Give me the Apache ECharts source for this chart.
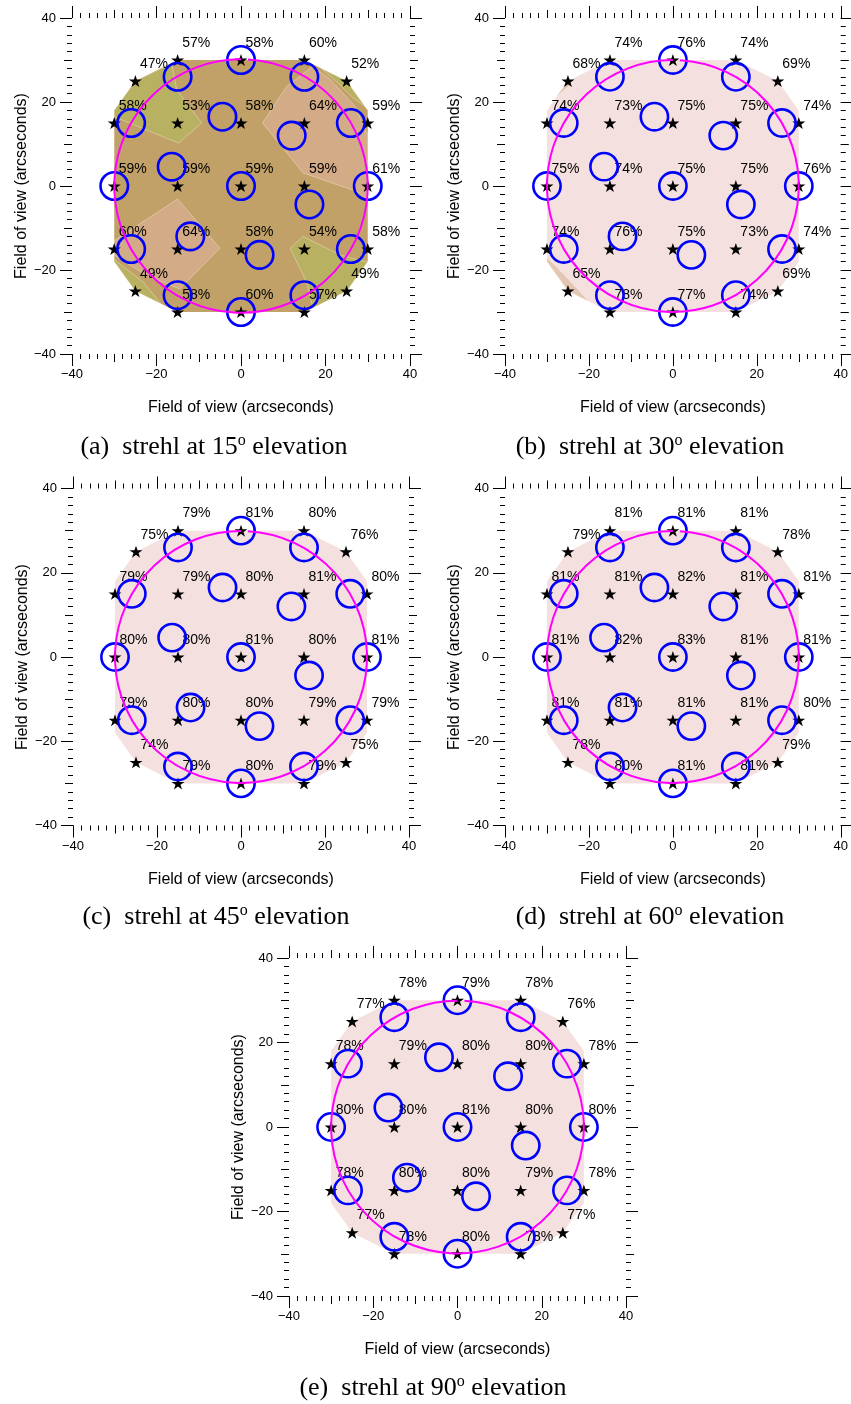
<!DOCTYPE html>
<html>
<head>
<meta charset="utf-8">
<script src="https://cdn.jsdelivr.net/npm/echarts@6/dist/echarts.min.js"></script>
<style>
html, body { margin: 0; padding: 0; background: #fff; }
#chart { width: 851px; height: 1404px; }
</style>
</head>
<body>
<div id="chart"></div>
<script>
// guide star positions (arcsec)
var starX = [-15, 0, 15, -25, 25, -30, -15, 0, 15, 30, -30, -15, 0, 15, 30, -30, -15, 0, 15, 30, -25, 25, -15, 0, 15]
var starY = [30, 30, 30, 25, 25, 15, 15, 15, 15, 15, 0, 0, 0, 0, 0, -15, -15, -15, -15, -15, -25, -25, -30, -30, -30]

// strehl (%) at each star, per elevation
var strehl15 = [57, 58, 60, 47, 52, 58, 53, 58, 64, 59, 59, 59, 59, 59, 61, 60, 64, 58, 54, 58, 49, 49, 58, 60, 57]
var strehl30 = [74, 76, 74, 68, 69, 74, 73, 75, 75, 74, 75, 74, 75, 75, 76, 74, 76, 75, 73, 74, 65, 69, 78, 77, 74]
var strehl45 = [79, 81, 80, 75, 76, 79, 79, 80, 81, 80, 80, 80, 81, 80, 81, 79, 80, 80, 79, 79, 74, 75, 79, 80, 79]
var strehl60 = [81, 81, 81, 79, 78, 81, 81, 82, 81, 81, 81, 82, 83, 81, 81, 81, 81, 81, 81, 80, 78, 79, 80, 81, 81]
var strehl90 = [78, 79, 78, 77, 76, 78, 79, 80, 80, 78, 80, 80, 81, 80, 80, 78, 80, 80, 79, 78, 77, 77, 78, 80, 78]

// blue rings (probe footprints)
var ringX = [0, -15, 15, -26, 26, -4.4, 12, -16.4, -30, 0, 30, 16.2, -12, 4.4, -26, 26, -15, 15, 0]
var ringY = [30, 26, 26, 15, 15, 16.5, 12, 4.6, 0, 0, 0, -4.4, -12, -16.4, -15, -15, -26, -26, -30]
var ringRadius = 3.25
var fovRadius = 30

// contour fill regions
var hullPts = [[-15, 30], [15, 30], [25, 25], [30, 18], [30, -18], [25, -25], [15, -30], [-15, -30], [-25, -25], [-30, -18], [-30, 18], [-25, 25]]
var a_oliveTL = [[-16.4, 29.2], [-15.2, 22.9], [-9.3, 15], [-14.8, 10.2], [-30, 16.5], [-30, 18], [-25, 25]]
var a_lightLL = [[-15, -3.1], [-5, -14.8], [-14.5, -24.5], [-22, -21.5], [-30, -16.5], [-30, -13]]
var a_oliveLL = [[-30, -17.5], [-30, -18], [-25, -25], [-19, -28], [-23, -23]]
var a_lightTR = [[10.8, 23.7], [5.1, 15], [14.7, 3.1], [27.4, -1.3], [30, -3], [30, 12], [27, 19], [21, 25.5], [17, 28.5]]
var a_oliveTR = [[19, 28], [25, 25], [29.3, 19], [26.5, 21], [23, 24.5]]
var a_oliveBR = [[11.6, -14.8], [14.7, -12], [23.4, -16.4], [28.5, -17.8], [30, -18], [25, -25], [17, -29], [15.5, -22.8]]
var b_darkLL = [[-30, -17], [-30, -18], [-25, -25], [-20, -27.5], [-26, -21]]
var b_darkTL = [[-25, 25], [-28, 21], [-24.5, 24]]

var TAN = '#c1a168', LIGHT = '#d3ab87', OLIVE = '#b9b162', PINK = '#f4e1df', PINKDARK = '#e4c6b3'

var starPath = 'path://M50 0 L61.2 34.5 L97.6 34.5 L68.2 55.9 L79.4 90.5 L50 69.1 L20.6 90.5 L31.8 55.9 L2.4 34.5 L38.8 34.5 Z'

var panels = [
  {
    grid: { left: 72, top: 18, width: 338, height: 336 },
    vals: strehl15,
    fills: [
      { pts: hullPts, color: TAN },
      { pts: a_oliveTL, color: OLIVE },
      { pts: a_lightLL, color: LIGHT },
      { pts: a_oliveLL, color: OLIVE },
      { pts: a_lightTR, color: LIGHT },
      { pts: a_oliveTR, color: OLIVE },
      { pts: a_oliveBR, color: OLIVE }
    ],
    tag: '(a)', elev: '15', cap: [214, 447]
  },
  {
    grid: { left: 505, top: 18, width: 337, height: 336 },
    vals: strehl30,
    fills: [
      { pts: hullPts, color: PINK },
      { pts: b_darkLL, color: PINKDARK },
      { pts: b_darkTL, color: PINKDARK }
    ],
    tag: '(b)', elev: '30', cap: [650, 447]
  },
  {
    grid: { left: 73, top: 488.5, width: 336, height: 337 },
    vals: strehl45,
    fills: [{ pts: hullPts, color: PINK }],
    tag: '(c)', elev: '45', cap: [216, 917]
  },
  {
    grid: { left: 505, top: 488.5, width: 337, height: 337 },
    vals: strehl60,
    fills: [{ pts: hullPts, color: PINK }],
    tag: '(d)', elev: '60', cap: [650, 917]
  },
  {
    grid: { left: 289, top: 958, width: 337, height: 338 },
    vals: strehl90,
    fills: [{ pts: hullPts, color: PINK }],
    tag: '(e)', elev: '90', cap: [433, 1388]
  }
]

function minus(v) {
  return String(v).replace('-', '\u2212')
}

// IDL style frame: no axis lines, outward ticks (major 20, medium 10, minor 2)
function makeAxes(g, dir) {
  var horizontal = dir === 'x'
  var base = {
    type: 'value', gridIndex: g, min: -40, max: 40,
    axisLine: { show: false, onZero: false },
    splitLine: { show: false },
    axisLabel: { show: false }
  }
  var sides = horizontal ? ['bottom', 'top'] : ['left', 'right']
  var out = []
  sides.forEach(function(side, k) {
    var major = Object.assign({}, base, {
      position: side,
      interval: 20,
      axisTick: { length: 12, lineStyle: { color: '#000', width: 1 } },
      minorTick: { show: true, splitNumber: 10, length: 5, lineStyle: { color: '#000', width: 1 } }
    })
    if (k === 0) {
      major.axisLabel = { show: true, margin: horizontal ? 14 : 16, fontSize: 13, color: '#000', formatter: minus }
      major.name = 'Field of view (arcseconds)'
      major.nameLocation = 'middle'
      major.nameGap = horizontal ? 46 : 42
      major.nameTextStyle = { fontSize: 16, color: '#000' }
    }
    var medium = Object.assign({}, base, {
      position: side,
      interval: 10,
      axisTick: { length: 8, lineStyle: { color: '#000', width: 1 } }
    })
    out.push(major, medium)
  })
  return out
}

var grids = [], xAxes = [], yAxes = [], series = [], graphics = []

panels.forEach(function(p, g) {
  grids.push(p.grid)
  xAxes = xAxes.concat(makeAxes(g, 'x'))
  yAxes = yAxes.concat(makeAxes(g, 'y'))
  var ax = { xAxisIndex: g * 4, yAxisIndex: g * 4 }

  // contour fill
  series.push(Object.assign({
    type: 'custom', z: 1, silent: true,
    data: p.fills.map(function(f, i) { return [i, 0] }),
    renderItem: function(params, api) {
      var f = p.fills[params.dataIndex]
      return {
        type: 'polygon',
        shape: { points: f.pts.map(function(pt) { return api.coord(pt) }) },
        style: { fill: f.color, stroke: params.dataIndex === 0 ? null : 'rgba(255,250,235,0.35)', lineWidth: 1 }
      }
    }
  }, ax))

  // stars with strehl labels
  series.push(Object.assign({
    type: 'scatter', z: 2, silent: true,
    symbol: starPath, symbolSize: [13, 12],
    itemStyle: { color: '#000', opacity: 1 },
    data: starX.map(function(x, i) { return [x, starY[i], p.vals[i]] }),
    label: {
      show: true,
      formatter: function(d) { return d.value[2] + '%' },
      position: [11, -11],
      align: 'left', verticalAlign: 'middle',
      fontSize: 14, color: '#000'
    }
  }, ax))

  // blue rings
  series.push(Object.assign({
    type: 'custom', z: 3, silent: true,
    data: ringX.map(function(x, i) { return [x, ringY[i]] }),
    renderItem: function(params, api) {
      var c = api.coord([api.value(0), api.value(1)])
      var r = api.size([ringRadius, 0])[0]
      return { type: 'circle', shape: { cx: c[0], cy: c[1], r: r }, style: { fill: 'none', stroke: '#0000ff', lineWidth: 2.6 } }
    }
  }, ax))

  // field of view circle
  series.push(Object.assign({
    type: 'custom', z: 4, silent: true,
    data: [[0, 0]],
    renderItem: function(params, api) {
      var c = api.coord([0, 0])
      var r = api.size([fovRadius, 0])[0]
      return {
        type: 'arc',
        shape: { cx: c[0], cy: c[1], r: r, startAngle: -Math.PI / 2 + 0.055, endAngle: Math.PI * 1.5, clockwise: true },
        style: { fill: 'none', stroke: '#ff00ff', lineWidth: 2 }
      }
    }
  }, ax))

  graphics.push({
    type: 'text', x: p.cap[0], y: p.cap[1], silent: true,
    style: {
      text: '{n|' + p.tag + '  strehl at ' + p.elev + '}{s|o}{n| elevation}',
      align: 'center', verticalAlign: 'middle',
      rich: {
        n: { fontFamily: 'Liberation Serif', fontSize: 26, lineHeight: 28, fill: '#000' },
        s: { fontFamily: 'Liberation Serif', fontSize: 16, lineHeight: 28, verticalAlign: 'top', fill: '#000' }
      }
    }
  })
})

var chart = echarts.init(document.getElementById('chart'), null, { renderer: 'canvas' })
chart.setOption({
  animation: false,
  backgroundColor: '#fff',
  textStyle: { fontFamily: 'Liberation Sans' },
  grid: grids,
  xAxis: xAxes,
  yAxis: yAxes,
  series: series,
  graphic: graphics
})
</script>
</body>
</html>
